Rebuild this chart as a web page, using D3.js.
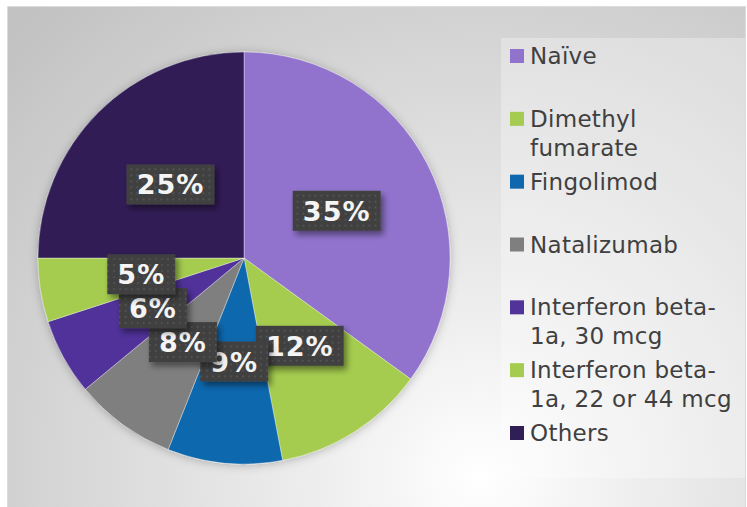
<!DOCTYPE html>
<html lang="en">
<head>
    <meta charset="UTF-8">
    <title>Treatment share</title>
    <script src="https://d3js.org/d3.v7.min.js"></script>
    <style>
        html, body { margin: 0; padding: 0; background: #fff; }
        svg { display: block; }
        .legend text { font-family: "DejaVu Sans", Verdana, sans-serif; font-size: 23px; letter-spacing: 0.3px; fill: #404040; }
        .label text { font-family: "DejaVu Sans", Verdana, sans-serif; font-size: 27px; font-weight: bold; letter-spacing: 1px; fill: #f4f4f4; }
    </style>
</head>
<body>
<div id="chart"></div>
<script>
    // Data
    const categories = ['Naïve', 'Dimethyl fumarate', 'Fingolimod', 'Natalizumab',
        'Interferon beta-1a, 30 mcg', 'Interferon beta-1a, 22 or 44 mcg', 'Others'];
    const legendLines = [['Naïve'], ['Dimethyl', 'fumarate'], ['Fingolimod'], ['Natalizumab'],
        ['Interferon beta-', '1a, 30 mcg'], ['Interferon beta-', '1a, 22 or 44 mcg'], ['Others']];
    const shares = [35, 12, 9, 8, 6, 5, 25];
    const colors = ['#9173cd', '#a5cc50', '#0f68ae', '#7f7f7f', '#51339a', '#a5cc50', '#301e57'];

    const W = 747, H = 507;
    const cx = 244, cy = 258, R = 206;

    const svg = d3.select('#chart').append('svg')
        .attr('width', W)
        .attr('height', H);

    const defs = svg.append('defs');

    // background gradient
    const bg = defs.append('radialGradient')
        .attr('id', 'bgGrad')
        .attr('gradientUnits', 'userSpaceOnUse')
        .attr('cx', 480).attr('cy', 475).attr('r', 640);
    bg.append('stop').attr('offset', '0').attr('stop-color', '#ffffff');
    bg.append('stop').attr('offset', '0.25').attr('stop-color', '#eeeeee');
    bg.append('stop').attr('offset', '1').attr('stop-color', '#c2c2c2');

    const pieShadow = defs.append('filter').attr('id', 'pieShadow')
        .attr('x', '-20%').attr('y', '-20%').attr('width', '140%').attr('height', '140%');
    pieShadow.append('feDropShadow')
        .attr('dx', 0).attr('dy', 1).attr('stdDeviation', 5)
        .attr('flood-color', '#000').attr('flood-opacity', 0.25);

    const boxShadow = defs.append('filter').attr('id', 'boxShadow')
        .attr('x', '-30%').attr('y', '-30%').attr('width', '160%').attr('height', '170%');
    boxShadow.append('feDropShadow')
        .attr('dx', 3).attr('dy', 4).attr('stdDeviation', 3)
        .attr('flood-color', '#000').attr('flood-opacity', 0.45);

    const dots = defs.append('pattern')
        .attr('id', 'dots')
        .attr('patternUnits', 'userSpaceOnUse')
        .attr('width', 6).attr('height', 6);
    dots.append('rect').attr('width', 6).attr('height', 6).attr('fill', '#404040');
    dots.append('rect').attr('x', 2).attr('y', 2).attr('width', 1.6).attr('height', 1.6).attr('fill', '#5a5a5a');

    // chart area
    svg.append('rect')
        .attr('x', 7.5).attr('y', 6.5)
        .attr('width', 738).attr('height', 505)
        .attr('fill', 'url(#bgGrad)')
        .attr('stroke', '#dcdcdc');

    // legend panel
    svg.append('rect')
        .attr('x', 501).attr('y', 38)
        .attr('width', 244).attr('height', 440)
        .attr('fill', '#ffffff')
        .attr('fill-opacity', 0.3);

    // pie
    const pie = d3.pie().sort(null).value(d => d)
        .startAngle(0).endAngle(2 * Math.PI);
    const arcs = pie(shares);
    const arc = d3.arc().innerRadius(0).outerRadius(R);
    const labelArc = d3.arc().innerRadius(104).outerRadius(104);

    const g = svg.append('g')
        .attr('transform', `translate(${cx},${cy})`);

    g.append('g')
        .attr('filter', 'url(#pieShadow)')
        .selectAll('path')
        .data(arcs)
        .enter()
        .append('path')
        .attr('d', arc)
        .attr('fill', (d, i) => colors[i])
        .attr('stroke', 'rgba(255,255,255,0.35)')
        .attr('stroke-width', 1);

    // data labels
    const labels = g.selectAll('.label')
        .data(arcs)
        .enter()
        .append('g')
        .attr('class', 'label')
        .attr('transform', d => `translate(${labelArc.centroid(d)})`);

    labels.append('rect')
        .attr('class', 'box')
        .attr('fill', 'url(#dots)')
        .attr('filter', 'url(#boxShadow)');

    labels.append('text')
        .attr('text-anchor', 'middle')
        .attr('y', 10)
        .text(d => d.data + '%');

    labels.each(function() {
        const tw = d3.select(this).select('text').node().getComputedTextLength();
        const bw = Math.round(tw + 20), bh = 40;
        d3.select(this).select('rect')
            .attr('x', -bw / 2).attr('y', -bh / 2)
            .attr('width', bw).attr('height', bh);
    });

    // legend
    const legendY = d3.scaleLinear()
        .domain([0, categories.length - 1])
        .range([64, 441]);

    const legend = svg.append('g').attr('class', 'legend');
    const items = legend.selectAll('g')
        .data(categories)
        .enter()
        .append('g')
        .attr('transform', (d, i) => `translate(510,${legendY(i)})`);

    items.append('rect')
        .attr('x', 0).attr('y', -15)
        .attr('width', 14).attr('height', 14)
        .attr('fill', (d, i) => colors[i]);

    items.append('text')
        .attr('x', 20)
        .selectAll('tspan')
        .data((d, i) => legendLines[i])
        .enter()
        .append('tspan')
        .attr('x', 20)
        .attr('dy', (d, j) => j === 0 ? 0 : 29)
        .text(d => d);
</script>
</body>
</html>
